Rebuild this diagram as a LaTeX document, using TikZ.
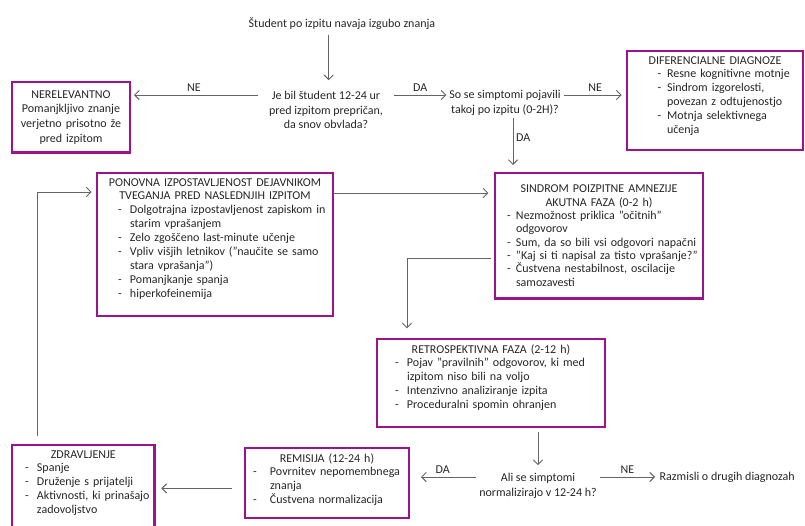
\documentclass[tikz,border=0pt]{standalone}
\usepackage{fontspec}
\setmainfont{Carlito}
\usetikzlibrary{positioning, arrows, arrows.meta}

\definecolor{boxpurple}{RGB}{155,20,140}
\definecolor{linegray}{RGB}{100,100,100}

\newlength{\itmoff}
\newlength{\itmgap}
\newcommand{\itm}[1]{\par\hangindent=\dimexpr\itmoff+\itmgap\relax\hangafter=1\noindent\hspace*{\itmoff}\makebox[\itmgap][l]{-}#1}
\newcommand{\boxtop}[1]{\vbox to #1\bgroup}
\newcommand{\boxfill}{\par\vfil\egroup}

\begin{document}
\begin{tikzpicture}[
        x=0.75pt, y=-0.75pt,
        every node/.style={font=\fontsize{9}{11}\selectfont, text=black!85},
        box/.style={draw=boxpurple, line width=2.2pt, anchor=north west, align=left, inner xsep=3pt, inner ysep=4pt,
            outer sep=0pt, font=\fontsize{9}{10.4}\selectfont},
        dashes/.style 2 args={execute at begin node={\setlength{\itmoff}{#1}\setlength{\itmgap}{#2}}},
        boxh/.style={execute at begin node={\boxtop{#1}}, execute at end node={\boxfill}},
        question/.style={align=center, inner xsep=2pt, inner ysep=2pt},
        arr/.style={-{Straight Barb[length=3.5pt, width=7pt]}, draw=linegray, line width=0.7pt},
        lbl/.style={inner sep=2pt}]

        \useasboundingbox (0,0) rectangle (805,525);

        \node (start) at (342,24) {Študent po izpitu navaja izgubo znanja};
        \node[question, inner xsep=8pt] (q1) at (326,110) {Je bil študent 12-24 ur\\ pred izpitom prepričan,\\ da snov obvlada?};
        \node[question] (q2) at (505,103) {So se simptomi pojavili\\ takoj po izpitu (0-2H)?};
        \node[question] (q3) at (538,486) {Ali se simptomi\\ normalizirajo v 12-24 h?};
        \node[anchor=west] (razm) at (655,477) {Razmisli o drugih diagnozah};

        \node[box, align=center, text width=82.5pt, minimum height=53pt, font=\fontsize{9}{11}\selectfont] (nerel) at (12,82)
            {NERELEVANTNO\\ Pomanjkljivo znanje\\ verjetno prisotno že\\ pred izpitom};
        \node[box, dashes={20pt}{7pt}, boxh=66.25pt, text width=126pt] (dif) at (627,51)
            {{\centering DIFERENCIALNE DIAGNOZE\par}
             \itm{Resne kognitivne motnje}
             \itm{Sindrom izgorelosti,\break povezan z odtujenostjo}
             \itm{Motnja selektivnega\break učenja}\par};
        \node[box, dashes={12.75pt}{9pt}, boxh=99.25pt, text width=171pt] (pon) at (97,173)
            {{\centering PONOVNA IZPOSTAVLJENOST DEJAVNIKOM\\ TVEGANJA PRED NASLEDNJIH IZPITOM\par}
             \itm{Dolgotrajna izpostavljenost zapiskom in\break starim vprašanjem}
             \itm{Zelo zgoščeno last-minute učenje}
             \itm{Vpliv višjih letnikov ("naučite se samo\break stara vprašanja")}
             \itm{Pomanjkanje spanja}
             \itm{hiperkofeinemija}\par};
        \node[box, dashes={6pt}{6.75pt}, minimum height=94pt, text width=150pt, font=\fontsize{9}{10}\selectfont] (sind) at (495,173)
            {{\centering SINDROM POIZPITNE AMNEZIJE\\ AKUTNA FAZA (0-2 h)\par}
             \itm{Nezmožnost priklica "očitnih"\break odgovorov}
             \itm{Sum, da so bili vsi odgovori napačni}
             \itm{"Kaj si ti napisal za tisto vprašanje?"}
             \itm{Čustvena nestabilnost, oscilacije\break samozavesti}\par};
        \node[box, dashes={10.5pt}{9pt}, boxh=58pt, text width=165pt] (retro) at (377,339)
            {{\centering RETROSPEKTIVNA FAZA (2-12 h)\par}
             \itm{Pojav "pravilnih" odgovorov, ki med\break izpitom niso bili na voljo}
             \itm{Intenzivno analiziranje izpita}
             \itm{Proceduralni spomin ohranjen}\par};
        \node[box, dashes={3pt}{12.75pt}, boxh=44.5pt, text width=117pt] (rem) at (245,448)
            {{\centering REMISIJA (12-24 h)\par}
             \itm{Povrnitev nepomembnega\break znanja}
             \itm{Čustvena normalizacija}\par};
        \node[box, dashes={6.75pt}{9pt}, boxh=53.5pt, text width=101pt] (zdr) at (12,445)
            {{\centering ZDRAVLJENJE\par}
             \itm{Spanje}
             \itm{Druženje s prijatelji}
             \itm{Aktivnosti, ki prinašajo\break zadovoljstvo}\par};

        \draw[arr, shorten >=6pt] ([xshift=2pt]start.south -| q1.north) -- ([xshift=2pt]q1.north);
        \draw[arr, shorten >=3pt] ([yshift=11.25pt]q1.west) -- ([yshift=11.25pt]q1.west -| nerel.east)
            node[lbl, midway, above] {NE};
        \draw[arr] ([yshift=11.25pt]q1.east) -- ([yshift=11.25pt]q1.east -| q2.west)
            node[lbl, midway, above] {DA};
        \draw[arr, shorten >=4pt] ([yshift=6pt]q2.east) -- ([yshift=6pt]q2.east -| dif.west)
            node[lbl, midway, above] {NE};
        \draw[arr, shorten >=6pt] ([xshift=6pt]q2.south) -- ([xshift=6pt]q2.south |- sind.north)
            node[lbl, pos=0.35, right] {DA};
        \draw[arr, shorten >=5pt] ([yshift=-15pt]pon.north east) -- ([yshift=-15pt]pon.north east -| sind.west);
        \draw[arr, shorten <=3pt, shorten >=8pt] ([yshift=30pt]sind.south west) -| ([xshift=22.5pt]retro.north west);
        \draw[arr, shorten <=4pt, shorten >=4pt] (q3.north |- retro.south) -- (q3.north);
        \draw[arr, shorten >=9pt] ([yshift=6.75pt]q3.west) -- ([yshift=6.75pt]q3.west -| rem.east)
            node[lbl, midway, above] {DA};
        \draw[arr] ([yshift=6.75pt]q3.east) -- ([yshift=6.75pt]q3.east -| razm.west)
            node[lbl, midway, above] {NE};
        \draw[arr, shorten <=10pt, shorten >=5pt] ([yshift=-4pt]rem.west) -- ([yshift=-4pt]rem.west -| zdr.east);
        \draw[arr, shorten <=7pt, shorten >=4pt] ([xshift=18.75pt]zdr.north west) |- ([yshift=-14.25pt]pon.north west);

    \end{tikzpicture}
\end{document}
